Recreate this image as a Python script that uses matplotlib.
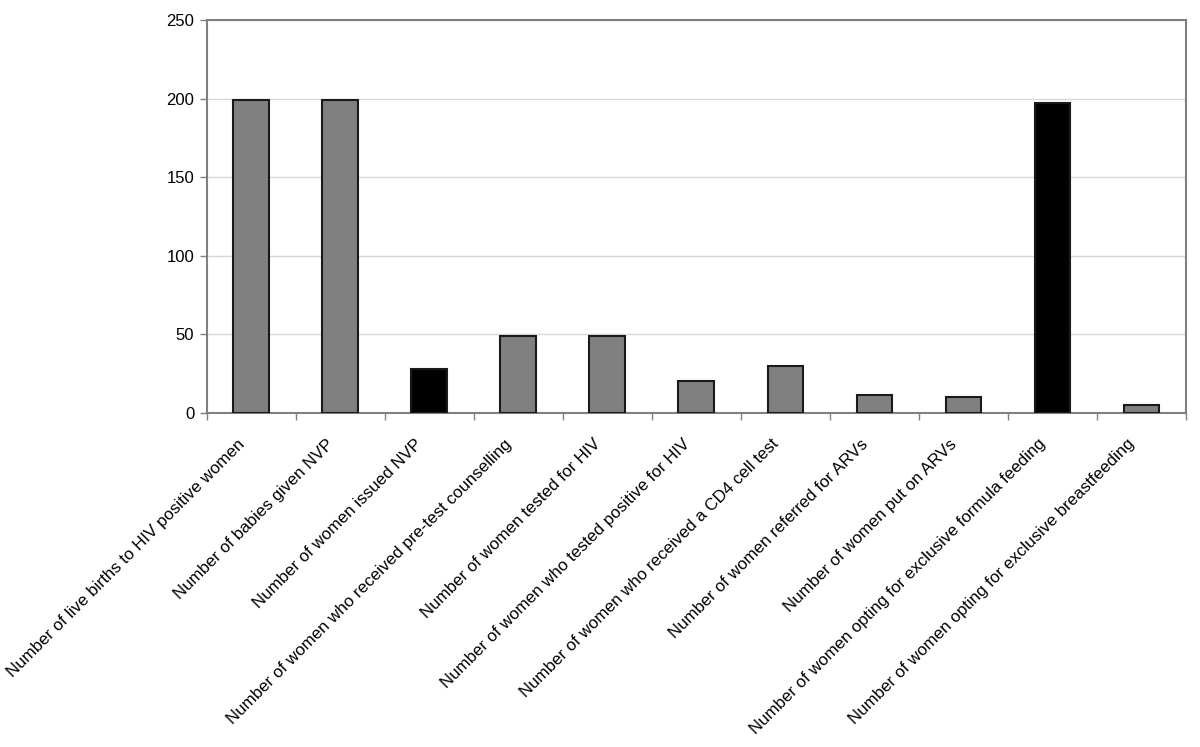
import matplotlib.pyplot as plt
import matplotlib.transforms as mtransforms
import numpy as np

plt.rcParams['font.family'] = ['Liberation Sans', 'DejaVu Sans']

LABELS = [
    "Number of live births to HIV positive women",
    "Number of babies given NVP",
    "Number of women issued NVP",
    "Number of women who received pre-test counselling",
    "Number of women tested for HIV",
    "Number of women who tested positive for HIV",
    "Number of women who received a CD4 cell test",
    "Number of women referred for ARVs",
    "Number of women put on ARVs",
    "Number of women opting for exclusive formula feeding",
    "Number of women opting for exclusive breastfeeding",
]
VALUES = [199, 199, 28, 49, 49, 20, 30, 11, 10, 197, 5]
HIGHLIGHT = [False, False, True, False, False, False, False, False, False, True, False]


def main():
    fig = plt.figure(figsize=(12, 7.47), dpi=100)
    ax = fig.add_axes([0.1722, 0.4475, 0.8161, 0.5257])

    x = np.arange(len(LABELS))
    colors = ['#000000' if h else '#808080' for h in HIGHLIGHT]
    ax.bar(x, VALUES, 0.4, color=colors, edgecolor='#1a1a1a', linewidth=1.5, zorder=3)

    ax.set_xlim(-0.5, len(LABELS) - 0.5)
    ax.set_ylim(0, 250)
    ax.set_yticks(np.arange(0, 251, 50))
    ax.yaxis.grid(True, color='#d9d9d9', linewidth=1, zorder=0)

    # ticks between categories, labels drawn as text under the centres
    ax.set_xticks(np.arange(-0.5, len(LABELS)))
    ax.set_xticklabels([])
    trans = ax.get_xaxis_transform() + mtransforms.ScaledTranslation(-0.09, -0.29, fig.dpi_scale_trans)
    for xi, lab in zip(x, LABELS):
        ax.text(xi, 0, lab, transform=trans, rotation=45, ha='right', va='center',
                rotation_mode='anchor', fontsize=12.2, clip_on=False)
    ax.tick_params(axis='x', length=5, color='#808080', width=1)
    ax.tick_params(axis='y', length=5, color='#808080', width=1, labelsize=12, pad=4)

    for s in ax.spines.values():
        s.set_color('#808080')
        s.set_linewidth(1.5)

    plt.savefig("out.png", dpi=100)
    plt.close('all')


if __name__ == '__main__':
    main()
